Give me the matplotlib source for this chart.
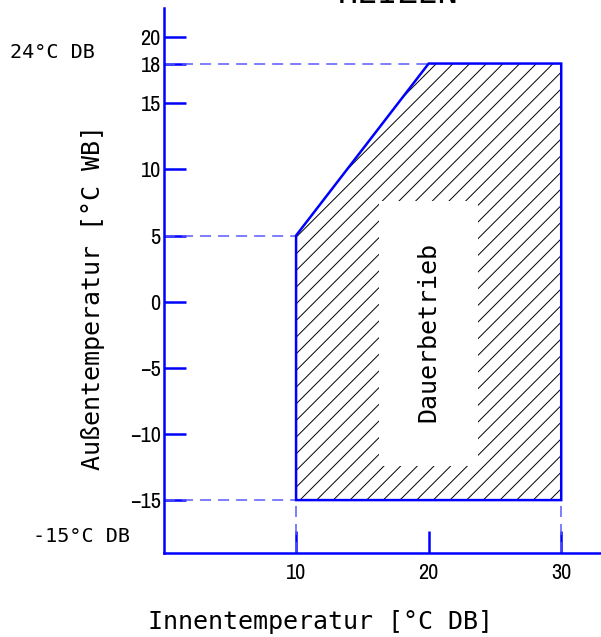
import matplotlib
matplotlib.use("Agg")
import matplotlib.pyplot as plt
from matplotlib.patches import Polygon, Rectangle
from matplotlib import font_manager as fm

# ---- data ----
region_x = [10, 10, 20, 30, 30]
region_y = [-15, 5, 18, 18, -15]
x_ticks = [10, 20, 30]
y_ticks = [-15, -10, -5, 0, 5, 10, 15, 18, 20]
guide_h = [(18, 20), (5, 10), (-15, 10)]   # (y level, x end) dashed guides
guide_v = [10, 30]                          # dashed verticals below -15
region_label = "Dauerbetrieb"
title = "HEIZEN"
xlabel = "Innentemperatur [°C DB]"
ylabel = "Außentemperatur [°C WB]"
note_top = "24°C DB"
note_bottom = "-15°C DB"

BLUE = "#0000ff"
DASH = "#5a5aff"
MONO = "DejaVu Sans Mono"

available = {f.name for f in fm.fontManager.ttflist}
TICKFONT = "DejaVu Sans"
for cand in ["Archivo Narrow", "Liberation Sans Narrow", "Arial Narrow",
             "Roboto Condensed", "Asap Condensed", "Barlow Condensed"]:
    if cand in available:
        TICKFONT = cand
        break

W, H = 601, 637
fig = plt.figure(figsize=(W / 100, H / 100), dpi=100)
x0px, x1px, ybot, ytop = 163.5, 601, 553, 8
ax = fig.add_axes([x0px / W, (H - ybot) / H, (x1px - x0px) / W, (ybot - ytop) / H])
ax.set_xlim(0, 33)
ax.set_ylim(-19, 22.2)

for s in ("top", "right"):
    ax.spines[s].set_visible(False)
for s in ("left", "bottom"):
    ax.spines[s].set_color(BLUE)
    ax.spines[s].set_linewidth(1.8)

ax.set_xticks(x_ticks)
ax.set_yticks(y_ticks)
ax.tick_params(direction="in", length=16, width=1.8, color=BLUE)
ax.tick_params(axis="x", pad=7)
ax.tick_params(axis="y", pad=2)
for lab in ax.get_xticklabels() + ax.get_yticklabels():
    lab.set_family(TICKFONT)
    lab.set_fontsize(16)

# dashed guides
for yv, xe in guide_h:
    ax.plot([0, xe], [yv, yv], color=DASH, lw=1.1, ls=(0, (7.2, 4.6)), zorder=2)
for xv in guide_v:
    ax.plot([xv, xv], [-19, -15], color=DASH, lw=1.1, ls=(0, (7.2, 4.6)), zorder=2)

pts = list(zip(region_x, region_y))
plt.rcParams["hatch.linewidth"] = 0.7
hatch = Polygon(pts, closed=True, facecolor="none", edgecolor="black", lw=0, hatch="//", zorder=3)
ax.add_patch(hatch)
ax.add_patch(Rectangle((16.25, -12.4), 7.45, 20.0, facecolor="white", edgecolor="none", zorder=4))
ax.add_patch(Polygon(pts, closed=True, facecolor="none", edgecolor=BLUE, lw=1.8, zorder=5))

ax.text(20, -2.3, region_label, rotation=90, ha="center", va="center",
        family=MONO, fontsize=18, zorder=6)

fig.text(93 / W, 1 - 297 / H, ylabel, rotation=90, ha="center", va="center",
         family=MONO, fontsize=18)
fig.text(321 / W, 1 - 622 / H, xlabel, ha="center", va="center", family=MONO, fontsize=18)
fig.text(10 / W, 1 - 52 / H, note_top, ha="left", va="center", family=MONO, fontsize=14.5)
fig.text(33 / W, 1 - 537 / H, note_bottom, ha="left", va="center", family=MONO, fontsize=14.5)
fig.text(398 / W, 1 - 3 / H, title, ha="center", va="baseline", family=MONO, fontsize=24)

fig.savefig("out.png", dpi=100)
